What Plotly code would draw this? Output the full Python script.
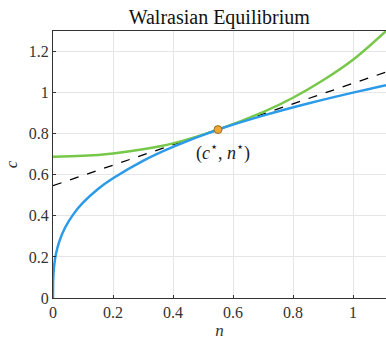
import plotly.graph_objects as go

# Blue curve (production / budget)
blue_n = [0, 0.0005, 0.002, 0.005, 0.01, 0.02, 0.04, 0.07, 0.1, 0.15, 0.2, 0.3, 0.4, 0.55, 0.7, 0.85, 1.0, 1.11]
blue_c = [0, 0.08, 0.126, 0.171, 0.215, 0.271, 0.342, 0.412, 0.464, 0.531, 0.583, 0.668, 0.736, 0.82, 0.888, 0.947, 1.0, 1.036]

# Green curve (indifference)
green_n = [0, 0.1, 0.2, 0.3, 0.4, 0.55, 0.7, 0.8, 0.9, 1.0, 1.11]
green_c = [0.688, 0.692, 0.704, 0.724, 0.753, 0.82, 0.905, 0.975, 1.06, 1.16, 1.3]

# Tangent line
tan_n = [0, 1.11]
tan_c = [0.547, 1.1]

# Equilibrium point
eq_n = [0.55]
eq_c = [0.82]

font_family = "Liberation Serif"

fig = go.Figure()
fig.add_trace(go.Scatter(x=tan_n, y=tan_c, mode="lines",
                         line=dict(color="black", width=1.3, dash="dash"), showlegend=False))
fig.add_trace(go.Scatter(x=green_n, y=green_c, mode="lines", line_shape="spline",
                         line=dict(color="#77C84A", width=2.5), showlegend=False))
fig.add_trace(go.Scatter(x=blue_n, y=blue_c, mode="lines", line_shape="spline",
                         line=dict(color="#2B9AE8", width=2.5), showlegend=False))
fig.add_trace(go.Scatter(x=eq_n, y=eq_c, mode="markers",
                         marker=dict(color="#F5A630", size=8, line=dict(color="#7a5a20", width=0.8)),
                         showlegend=False))

fig.add_annotation(x=0.567, y=0.71, text="(<i>c</i><sup>⋆</sup>, <i>n</i><sup>⋆</sup>)",
                   showarrow=False, font=dict(family=font_family, size=18, color="#222"))

fig.update_layout(
    width=386, height=341,
    margin=dict(l=53, r=0, t=31, b=43),
    paper_bgcolor="white", plot_bgcolor="white",
    font=dict(family=font_family, size=16, color="#333"),
    title=dict(text="Walrasian Equilibrium", x=0.568, xanchor="center", y=0.95, yanchor="middle",
               font=dict(family=font_family, size=20, color="#111")),
)
fig.update_xaxes(range=[0, 1.11], tickvals=[0, 0.2, 0.4, 0.6, 0.8, 1], ticktext=["0", "0.2", "0.4", "0.6", "0.8", "1"],
                 showgrid=True, gridcolor="#e6e6e6", gridwidth=1,
                 showline=True, linecolor="#333", linewidth=1, mirror=True,
                 ticks="inside", ticklen=3, tickcolor="#333", zeroline=False,
                 title=dict(text="<i>n</i>", font=dict(size=17), standoff=3))
fig.update_yaxes(range=[0, 1.3], tickvals=[0, 0.2, 0.4, 0.6, 0.8, 1, 1.2], ticktext=["0", "0.2", "0.4", "0.6", "0.8", "1", "1.2"],
                 showgrid=True, gridcolor="#e6e6e6", gridwidth=1,
                 showline=True, linecolor="#333", linewidth=1,
                 ticks="inside", ticklen=3, tickcolor="#333", zeroline=False,
                 title=dict(text="<i>c</i>", font=dict(size=17), standoff=6))

fig.write_html("out.html")
